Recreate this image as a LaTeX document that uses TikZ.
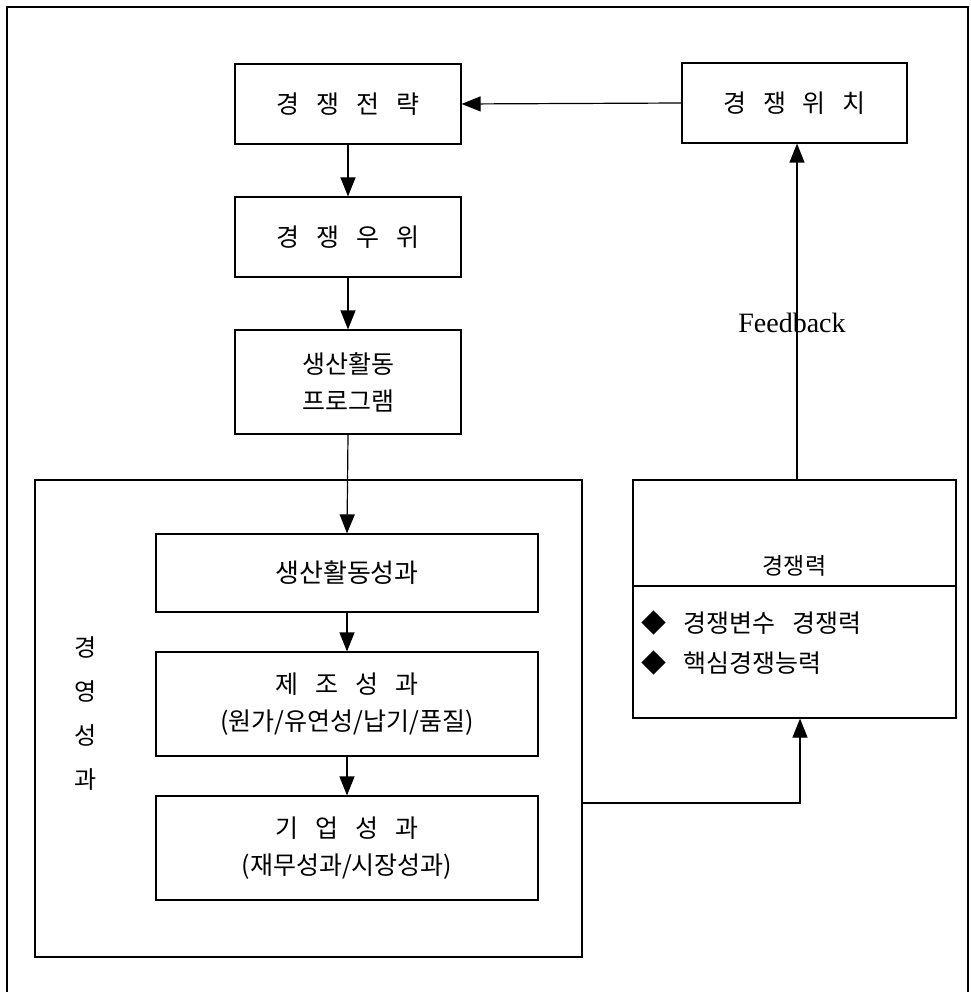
\documentclass[tikz,border=0pt]{standalone}
\usepackage{fontspec}
\setmainfont{Liberation Serif}
\newfontfamily\kr{Noto Sans CJK KR}[WordSpace=3]
\usetikzlibrary{arrows.meta}

\begin{document}
\begin{tikzpicture}[x=1pt,y=-1pt,
  box/.style={draw, line width=1.2pt, inner sep=0pt, align=center,
    font=\kr\fontsize{25}{36}\selectfont},
  twoline/.style={font=\kr\fontsize{25}{37}\selectfont},
  link/.style={line width=1.2pt},
  arr/.style={link, -{Triangle[width=15pt,length=19pt]}},
  lbl/.style={font=\kr\fontsize{25}{36}\selectfont},
]
\useasboundingbox (0,0) rectangle (970,992);

% page frame
\draw[link] (7,992) -- (7,7) -- (968,7) -- (968,992);

% upper chain
\node[box, minimum width=226pt, minimum height=80pt] (strat) at (348,104) {경 쟁 전 략};
\node[box, minimum width=225pt, minimum height=80pt] (pos) at (794.5,103) {경 쟁 위 치};
\node[box, minimum width=226pt, minimum height=80pt] (adv) at (348,237) {경 쟁 우 위};
\node[box, minimum width=226pt, minimum height=104pt, twoline] (prog) at (348,382) {생산활동\\프로그램};

% management performance group
\node[box, minimum width=547pt, minimum height=477pt] (mgmt) at (308.5,718.5) {};
\node[lbl, align=center, font=\kr\fontsize{24}{44}\selectfont] (mlabel) at (86,714) {경\\영\\성\\과};
\node[box, minimum width=382pt, minimum height=78pt, font=\kr\fontsize{26}{36}\selectfont] (perf) at (347,573) {생산활동성과};
\node[box, minimum width=382pt, minimum height=104pt, twoline] (manu) at (347,704) {제 조 성 과\\(원가/유연성/납기/품질)};
\node[box, minimum width=382pt, minimum height=104pt, twoline] (corp) at (347,848) {기 업 성 과\\(재무성과/시장성과)};

% competitiveness panel
\node[box, minimum width=323pt, minimum height=238pt] (comp) at (794.5,599) {};
\coordinate (div) at (794.5,586);
\draw[link] (comp.west |- div) -- (comp.east |- div);
\node[lbl, font=\kr\fontsize{23}{30}\selectfont] (comphead) at (794.5,566) {경쟁력};
\node[lbl, anchor=west] (comp1) at (638,623) {◆ 경쟁변수 경쟁력};
\node[lbl, anchor=west] (comp2) at (638,663) {◆ 핵심경쟁능력};

% connectors
\draw[arr] (pos.west) -- (strat.east);
\draw[arr] (strat.south) -- (adv.north);
\draw[arr] (adv.south) -- (prog.north);
\draw[arr] (prog.south) -- (perf.north);
\draw[arr] (perf.south) -- (manu.north);
\draw[arr] (manu.south) -- (corp.north);

\coordinate (turn) at (800,803);
\draw[arr] (mgmt.east |- turn) -- (turn) -- (turn |- comp.south);

\coordinate (fb) at (797,300);
\node[font=\fontsize{28}{30}\selectfont] (fblabel) at (792,323) {Feedback};
\draw[arr] (fb |- comp.north) -- (fb |- pos.south);
\end{tikzpicture}
\end{document}
